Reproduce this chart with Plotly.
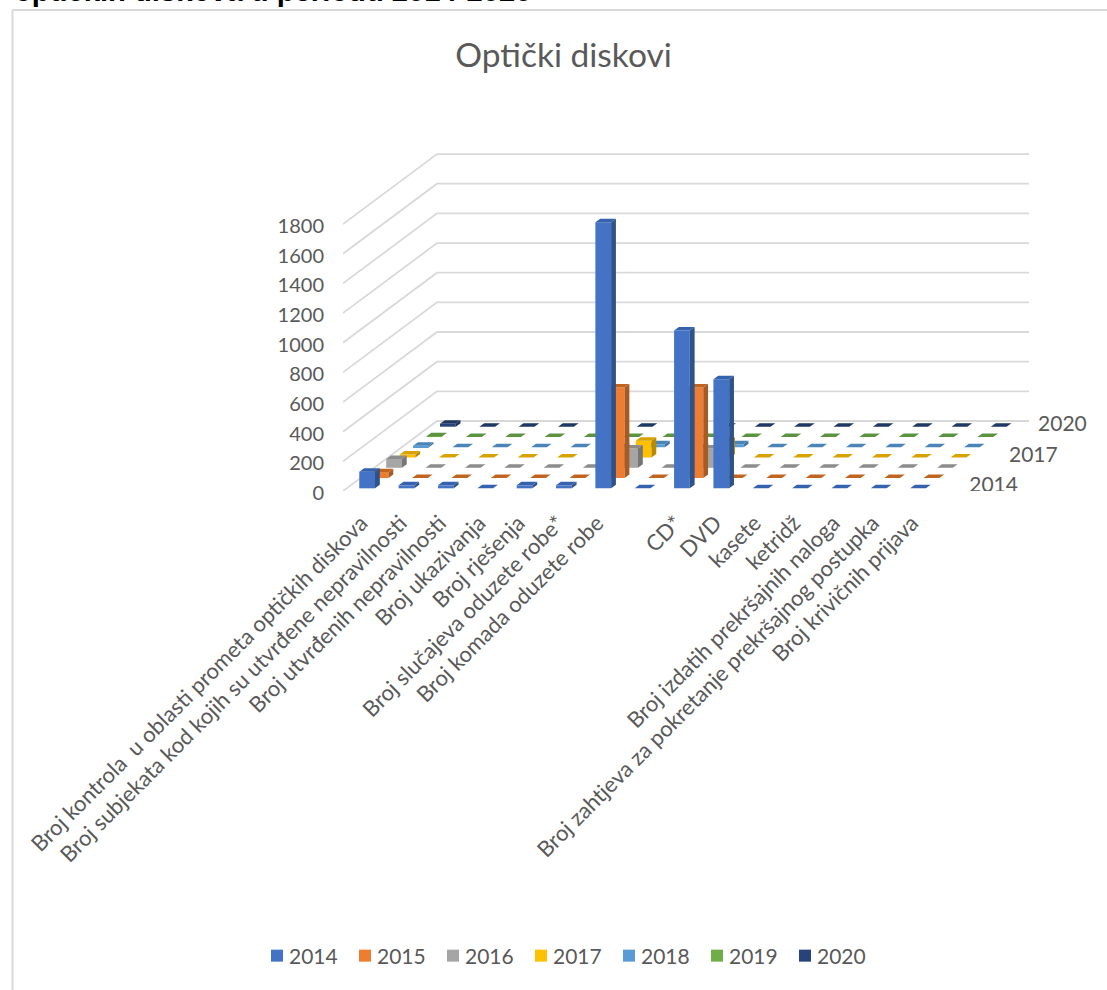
import plotly.graph_objects as go

years = ["2014", "2015", "2016", "2017", "2018", "2019", "2020"]
categories = [
    "Broj kontrola  u oblasti prometa optičkih diskova",
    "Broj subjekata kod kojih su utvrđene nepravilnosti",
    "Broj utvrđenih nepravilnosti",
    "Broj ukazivanja",
    "Broj rješenja",
    "Broj slučajeva oduzete robe*",
    "Broj komada oduzete robe",
    "",
    "CD*",
    "DVD",
    "kasete",
    "ketridž",
    "Broj izdatih prekršajnih naloga",
    "Broj zahtjeva za pokretanje prekršajnog postupka",
    "Broj krivičnih prijava",
]
v2014 = [112, 20, 20, 0, 20, 20, 1795, 0, 1065, 736, 0, 0, 0, 0, 0]
v2015 = [40, 0, 0, 0, 0, 0, 610, 0, 610, 0, 0, 0, 0, 0, 0]
v2016 = [60, 0, 0, 0, 0, 0, 130, 0, 130, 0, 0, 0, 0, 0, 0]
v2017 = [20, 0, 0, 0, 0, 0, 113, 0, 113, 0, 0, 0, 0, 0, 0]
v2018 = [10, 0, 0, 0, 0, 0, 20, 0, 20, 0, 0, 0, 0, 0, 0]
v2019 = [5, 0, 0, 0, 0, 0, 0, 0, 0, 0, 0, 0, 0, 0, 0]
v2020 = [20, 0, 0, 0, 0, 0, 0, 0, 0, 0, 0, 0, 0, 0, 0]
series = [v2014, v2015, v2016, v2017, v2018, v2019, v2020]
y_ticks = [0, 200, 400, 600, 800, 1000, 1200, 1400, 1600, 1800]
depth_labels = ["2014", "2017", "2020"]
depth_label_x = [15.92, 16.93, 17.67]
depth_label_y = [27, 229, 438]

front = ["#4472C4", "#ED7D31", "#A5A5A5", "#FFC000", "#5B9BD5", "#70AD47", "#264478"]
top = ["#3562AE", "#C0641F", "#8C8C8C", "#D6A300", "#4A84B8", "#5B9340", "#1F3864"]
side = ["#2F5288", "#A85A24", "#767676", "#B88A00", "#3F709E", "#4F7D33", "#1B3056"]
GREY = "#595959"
GRID = "#D9D9D9"

W, H = 1107, 990
L, R, T, B = 343, 1100, 100, 491
PX_Y = 0.1483
PX_X = 39.35
X0_PX = 367.15
x_range = [(L - X0_PX) / PX_X, (R - X0_PX) / PX_X]
y_range = [0, (B - T) / PX_Y]

BAR_W = 0.40
ROW_DX = 0.3418
ROW_DY = 69.25
BAR_DX = 0.122
BAR_DY = 23.6
BASE = 18
WALL_DX = 94 / PX_X
WALL_DY = 70 / PX_Y
WALL_END = (1029 - X0_PX) / PX_X


def paper_x(px):
    return (px - L) / (R - L)


def paper_y(px):
    return (B - px) / (B - T)


fig = go.Figure()

# walls and floor
gx, gy = [], []
for t in y_ticks:
    gx += [x_range[0], x_range[0] + WALL_DX, WALL_END, None]
    gy += [t, t + WALL_DY, t + WALL_DY, None]
fig.add_trace(go.Scatter(x=gx, y=gy, mode="lines", line=dict(color=GRID, width=1.8),
                         showlegend=False, hoverinfo="skip", zorder=0, cliponaxis=False))

for k, (name, vals) in enumerate(zip(years, series)):
    xs = [i + k * ROW_DX for i in range(len(vals))]
    base = BASE + k * ROW_DY
    z = 2 * (len(years) - k)
    fig.add_trace(go.Bar(x=xs, y=vals, base=base, width=BAR_W, name=name,
                         marker=dict(color=front[k], line=dict(width=0)),
                         hoverinfo="skip", zorder=z, cliponaxis=False))
    tx, ty, sx, sy = [], [], [], []
    for x, v in zip(xs, vals):
        lft, rgt = x - BAR_W / 2, x + BAR_W / 2
        yt = base + v
        tx += [lft, rgt, rgt + BAR_DX, lft + BAR_DX, lft, None]
        ty += [yt, yt, yt + BAR_DY, yt + BAR_DY, yt, None]
        sx += [rgt, rgt + BAR_DX, rgt + BAR_DX, rgt, rgt, None]
        sy += [base, base + BAR_DY, yt + BAR_DY, yt, base, None]
    fig.add_trace(go.Scatter(x=sx, y=sy, mode="lines", fill="toself", fillcolor=side[k],
                             line=dict(width=0), showlegend=False, hoverinfo="skip",
                             zorder=z, cliponaxis=False))
    fig.add_trace(go.Scatter(x=tx, y=ty, mode="lines", fill="toself", fillcolor=top[k],
                             line=dict(width=0), showlegend=False, hoverinfo="skip",
                             zorder=z, cliponaxis=False))

# depth axis labels
fig.add_trace(go.Scatter(
    x=depth_label_x, y=depth_label_y,
    text=depth_labels, mode="text",
    textfont=dict(family="Lato", size=21, color=GREY), textposition="middle center",
    showlegend=False, hoverinfo="skip", zorder=20, cliponaxis=False))

fig.update_layout(
    width=W, height=H, autosize=False,
    paper_bgcolor="white", plot_bgcolor="rgba(0,0,0,0)",
    barmode="overlay",
    margin=dict(l=L, r=W - R, t=T, b=H - B, pad=0, autoexpand=False),
    font=dict(family="Lato", color=GREY, size=20),
    title=dict(text="Optički diskovi", x=563.5 / W, xanchor="center", y=1 - 55 / H, yanchor="middle",
               font=dict(family="Lato", size=33.5, color=GREY)),
    xaxis=dict(range=x_range, tickmode="array", tickvals=list(range(len(categories))),
               ticktext=categories, tickangle=-45, showgrid=False, zeroline=False,
               showline=False, ticks="", ticklabelstandoff=14, ticklabelshift=-6,
               tickfont=dict(family="Lato", size=22, color=GREY)),
    yaxis=dict(range=y_range, tickmode="array", tickvals=y_ticks, showgrid=False,
               zeroline=False, showline=False, ticks="", ticklabelstandoff=18, ticklabelshift=2,
               tickfont=dict(family="Lato", size=20, color=GREY)),
    legend=dict(orientation="h", x=paper_x(557), xanchor="center", y=paper_y(956), yanchor="middle",
                font=dict(family="Lato", size=21, color=GREY), itemwidth=30,
                entrywidth=43, entrywidthmode="pixels",
                bgcolor="rgba(0,0,0,0)", itemclick=False, itemdoubleclick=False),
    shapes=[
        dict(type="line", xref="paper", yref="paper", x0=paper_x(12.5), x1=paper_x(12.5),
             y0=paper_y(10), y1=paper_y(990), line=dict(color=GRID, width=2), layer="below"),
        dict(type="line", xref="paper", yref="paper", x0=paper_x(12.5), x1=paper_x(1107),
             y0=paper_y(10), y1=paper_y(10), line=dict(color=GRID, width=2), layer="below"),
    ],
    annotations=[
        dict(text="<b>optičkih diskova u periodu 2014-2020</b>", xref="paper", yref="paper",
             x=paper_x(12), xanchor="left", y=paper_y(9), yanchor="bottom", showarrow=False,
             font=dict(family="Liberation Sans", size=29.2, color="black")),
    ],
)

fig.write_html("out.html", post_script=(
    "document.body.style.margin='0';"
    "setTimeout(function(){document.querySelectorAll('.legendsymbols').forEach("
    "function(g){g.setAttribute('transform','translate(8,0)');});"
    "document.querySelectorAll('.legend .scrollbox').forEach("
    "function(g){g.removeAttribute('clip-path');});},50);"),
    config={"displayModeBar": False})
